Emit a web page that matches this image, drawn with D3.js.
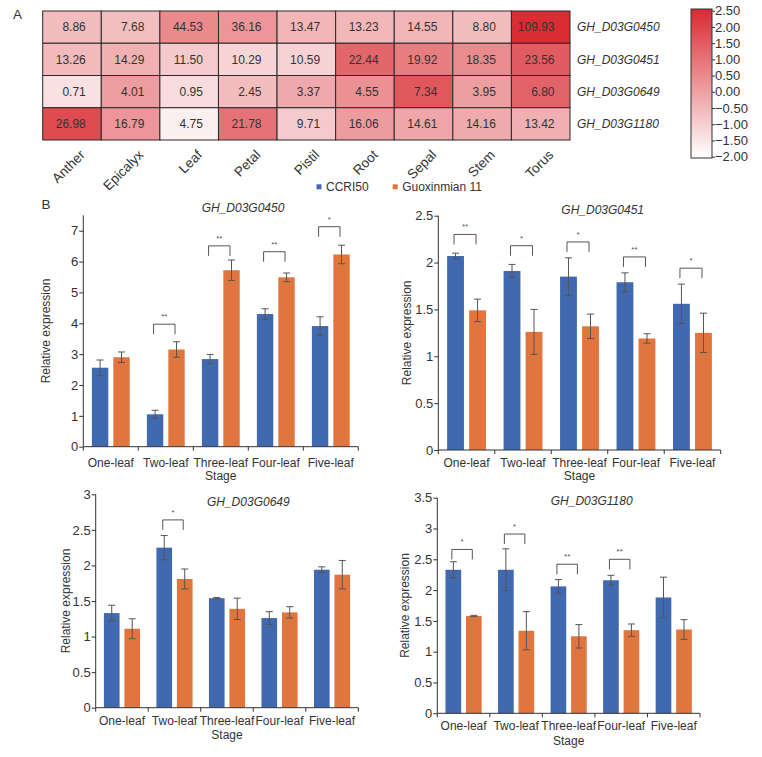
<!DOCTYPE html>
<html>
<head>
<meta charset="utf-8">
<script src="https://cdn.jsdelivr.net/npm/d3@7"></script>
<style>
  html, body { margin: 0; padding: 0; background: #fff; }
  svg { display: block; font-family: "Liberation Sans", Arial, sans-serif; }
</style>
</head>
<body>
<svg id="chart" width="762" height="757"></svg>
<script>
// ---------------- DATA ----------------
const tissues = ["Anther", "Epicalyx", "Leaf", "Petal", "Pistil", "Root", "Sepal", "Stem", "Torus"];
const genes = ["GH_D03G0450", "GH_D03G0451", "GH_D03G0649", "GH_D03G1180"];
const expr0450 = [8.86, 7.68, 44.53, 36.16, 13.47, 13.23, 14.55, 8.80, 109.93];
const expr0451 = [13.26, 14.29, 11.50, 10.29, 10.59, 22.44, 19.92, 18.35, 23.56];
const expr0649 = [0.71, 4.01, 0.95, 2.45, 3.37, 4.55, 7.34, 3.95, 6.80];
const expr1180 = [26.98, 16.79, 4.75, 21.78, 9.71, 16.06, 14.61, 14.16, 13.42];
const colorbarTicks = [2.5, 2.0, 1.5, 1.0, 0.5, 0.0, -0.5, -1.0, -1.5, -2.0];

const stages = ["One-leaf", "Two-leaf", "Three-leaf", "Four-leaf", "Five-leaf"];
const seriesNames = ["CCRI50", "Guoxinmian 11"];

const ccri_0450 = [2.56, 1.05, 2.84, 4.30, 3.91];
const ccriErr_0450 = [0.25, 0.13, 0.15, 0.17, 0.30];
const gxm_0450 = [2.90, 3.15, 5.72, 5.49, 6.23];
const gxmErr_0450 = [0.17, 0.25, 0.33, 0.14, 0.30];
const sig_0450 = ["", "**", "**", "**", "*"];
const sigLevel_0450 = [null, 3.97, 6.51, 6.32, 7.13];
const yTicks_0450 = [0, 1, 2, 3, 4, 5, 6, 7];

const ccri_0451 = [2.07, 1.91, 1.85, 1.79, 1.56];
const ccriErr_0451 = [0.03, 0.07, 0.20, 0.10, 0.21];
const gxm_0451 = [1.49, 1.26, 1.32, 1.19, 1.25];
const gxmErr_0451 = [0.12, 0.24, 0.13, 0.05, 0.21];
const sig_0451 = ["**", "*", "*", "**", "*"];
const sigLevel_0451 = [2.30, 2.18, 2.22, 2.06, 1.94];
const yTicks_0451 = [0, 0.5, 1, 1.5, 2, 2.5];

const ccri_0649 = [1.33, 2.25, 1.54, 1.26, 1.94];
const ccriErr_0649 = [0.11, 0.17, 0.01, 0.09, 0.04];
const gxm_0649 = [1.11, 1.81, 1.39, 1.34, 1.87];
const gxmErr_0649 = [0.14, 0.14, 0.15, 0.08, 0.20];
const sig_0649 = ["", "*", "", "", ""];
const sigLevel_0649 = [null, 2.64, null, null, null];
const yTicks_0649 = [0, 0.5, 1, 1.5, 2, 2.5, 3];

const ccri_1180 = [2.33, 2.33, 2.06, 2.16, 1.88];
const ccriErr_1180 = [0.13, 0.34, 0.11, 0.08, 0.33];
const gxm_1180 = [1.58, 1.34, 1.25, 1.35, 1.36];
const gxmErr_1180 = [0.01, 0.31, 0.19, 0.10, 0.16];
const sig_1180 = ["*", "*", "**", "**", ""];
const sigLevel_1180 = [2.66, 2.91, 2.42, 2.50, null];
const yTicks_1180 = [0, 0.5, 1, 1.5, 2, 2.5, 3, 3.5];

// ---------------- DRAW ----------------
const svg = d3.select("#chart");
const seriesColor = d3.scaleOrdinal().domain(seriesNames).range(["#4169b0", "#e0763d"]);
const textColor = "#333";

// ---- Panel A: heatmap ----
const exprRows = [expr0450, expr0451, expr0649, expr1180];
const hm = { left: 42.7, top: 11, right: 570, bottom: 140 };
const xHm = d3.scaleBand().domain(tissues).range([hm.left, hm.right]);
const yHm = d3.scaleBand().domain(genes).range([hm.top, hm.bottom]);
const heatColor = d3.scaleLinear().domain([-2, 2.5]).range(["#ffffff", "#d82b31"]).clamp(true);

svg.append("text").attr("x", 13).attr("y", 18.5).attr("font-size", 13.5).attr("fill", textColor).text("A");

const cells = [];
exprRows.forEach((row, ri) => {
  const m = d3.mean(row), s = d3.deviation(row);
  row.forEach((v, ci) => cells.push({ gene: genes[ri], tissue: tissues[ci], value: v, z: (v - m) / s }));
});
const hmG = svg.append("g");
hmG.selectAll("rect").data(cells).join("rect")
  .attr("x", d => xHm(d.tissue)).attr("y", d => yHm(d.gene))
  .attr("width", xHm.bandwidth()).attr("height", yHm.bandwidth())
  .attr("fill", d => heatColor(d.z)).attr("stroke", "#2a2a2a").attr("stroke-width", 1);
hmG.selectAll("text").data(cells).join("text")
  .attr("x", d => xHm(d.tissue) + xHm.bandwidth() - 15.5)
  .attr("y", d => yHm(d.gene) + yHm.bandwidth() / 2)
  .attr("dy", "0.36em").attr("text-anchor", "end")
  .attr("font-size", 12).attr("fill", "#333")
  .text(d => d3.format(".2f")(d.value));
svg.append("g").selectAll("text").data(genes).join("text")
  .attr("x", hm.right + 7).attr("y", d => yHm(d) + yHm.bandwidth() / 2).attr("dy", "0.36em")
  .attr("font-size", 12).attr("font-style", "italic").attr("fill", textColor).text(d => d);
svg.append("g").selectAll("text").data(tissues).join("text")
  .attr("transform", d => `translate(${xHm(d) + xHm.bandwidth() / 2 + 7},${hm.bottom + 9}) rotate(-45)`)
  .attr("text-anchor", "end").attr("dy", "0.7em")
  .attr("font-size", 13.5).attr("fill", textColor).text(d => d);

// colour bar
const cb = { x: 691, w: 21, top: 9, bottom: 158 };
const yCb = d3.scaleLinear().domain([-2, 2.5]).range([cb.bottom - 1.3, cb.top + 1.7]);
const defs = svg.append("defs");
const grad = defs.append("linearGradient").attr("id", "cbgrad").attr("x1", 0).attr("x2", 0).attr("y1", 1).attr("y2", 0);
d3.range(0, 1.0001, 0.1).forEach(t => {
  grad.append("stop").attr("offset", t).attr("stop-color", heatColor(-2 + 4.5 * t));
});
svg.append("rect").attr("x", cb.x).attr("y", cb.top).attr("width", cb.w).attr("height", cb.bottom - cb.top)
  .attr("fill", "url(#cbgrad)").attr("stroke", "#333").attr("stroke-width", 1);
const cbAxis = svg.append("g").attr("transform", `translate(${cb.x + cb.w},0)`)
  .call(d3.axisRight(yCb).tickValues(colorbarTicks).tickSize(3).tickFormat(d3.format(".2f")));
cbAxis.select(".domain").remove();
cbAxis.selectAll("line").attr("stroke", "#333");
cbAxis.selectAll("text").attr("font-size", 13).attr("fill", textColor).attr("x", 3)
  .attr("font-family", "Liberation Sans, Arial, sans-serif");

// legend
const lg = svg.append("g");
[{ name: seriesNames[0], x: 316.5 }, { name: seriesNames[1], x: 392.7 }].forEach(d => {
  lg.append("rect").attr("x", d.x).attr("y", 184.3).attr("width", 5).attr("height", 5).attr("fill", seriesColor(d.name));
  lg.append("text").attr("x", d.x + 9.5).attr("y", 186.8).attr("dy", "0.36em").attr("font-size", 12).attr("fill", textColor).text(d.name);
});

svg.append("text").attr("x", 41.5).attr("y", 208.5).attr("font-size", 13.5).attr("fill", textColor).text("B");

// ---- Panel B: bar charts ----
const panels = [
  { gene: genes[0], a: ccri_0450, ae: ccriErr_0450, b: gxm_0450, be: gxmErr_0450, sig: sig_0450, lvl: sigLevel_0450, ticks: yTicks_0450, ymax: 7.5,
    x0: 83.3, x1: 358.3, y0: 446.7, yTop: 215.3, titleX: 243, titleY: 212, ylabX: 50, xlabY: 466.5, stageY: 480 },
  { gene: genes[1], a: ccri_0451, ae: ccriErr_0451, b: gxm_0451, be: gxmErr_0451, sig: sig_0451, lvl: sigLevel_0451, ticks: yTicks_0451, ymax: 2.5,
    x0: 438.3, x1: 720.7, y0: 450, yTop: 215.7, titleX: 602.7, titleY: 214, ylabX: 410.5, xlabY: 467, stageY: 480 },
  { gene: genes[2], a: ccri_0649, ae: ccriErr_0649, b: gxm_0649, be: gxmErr_0649, sig: sig_0649, lvl: sigLevel_0649, ticks: yTicks_0649, ymax: 3,
    x0: 95.7, x1: 358.3, y0: 707.7, yTop: 494.3, titleX: 248.3, titleY: 505.5, ylabX: 69.5, xlabY: 724.5, stageY: 739 },
  { gene: genes[3], a: ccri_1180, ae: ccriErr_1180, b: gxm_1180, be: gxmErr_1180, sig: sig_1180, lvl: sigLevel_1180, ticks: yTicks_1180, ymax: 3.5,
    x0: 437.3, x1: 700, y0: 713.3, yTop: 497.7, titleX: 591.7, titleY: 504.5, ylabX: 409, xlabY: 730, stageY: 744.5 }
];

panels.forEach(p => {
  const g = svg.append("g");
  const x = d3.scaleBand().domain(stages).range([p.x0, p.x1]);
  const x1 = d3.scaleBand().domain(seriesNames).range([0, x.bandwidth()]).paddingInner(0.235).paddingOuter(0.4);
  const y = d3.scaleLinear().domain([0, p.ymax]).range([p.y0, p.yTop]);
  const rows = stages.map((s, i) => ({ stage: s, vals: [
    { series: seriesNames[0], v: p.a[i], e: p.ae[i] },
    { series: seriesNames[1], v: p.b[i], e: p.be[i] }] }));

  // bars
  const grp = g.selectAll("g.grp").data(rows).join("g").attr("class", "grp")
    .attr("transform", d => `translate(${x(d.stage)},0)`);
  grp.selectAll("rect").data(d => d.vals).join("rect")
    .attr("x", d => x1(d.series)).attr("width", x1.bandwidth())
    .attr("y", d => y(d.v)).attr("height", d => y(0) - y(d.v))
    .attr("fill", d => seriesColor(d.series));
  // error bars
  const eb = grp.selectAll("g.eb").data(d => d.vals).join("g").attr("class", "eb")
    .attr("stroke", "#555").attr("stroke-width", 1);
  eb.append("line").attr("x1", d => x1(d.series) + x1.bandwidth() / 2).attr("x2", d => x1(d.series) + x1.bandwidth() / 2)
    .attr("y1", d => y(d.v - d.e)).attr("y2", d => y(d.v + d.e));
  eb.append("line").attr("x1", d => x1(d.series) + x1.bandwidth() / 2 - 3.5).attr("x2", d => x1(d.series) + x1.bandwidth() / 2 + 3.5)
    .attr("y1", d => y(d.v + d.e)).attr("y2", d => y(d.v + d.e));
  eb.append("line").attr("x1", d => x1(d.series) + x1.bandwidth() / 2 - 3.5).attr("x2", d => x1(d.series) + x1.bandwidth() / 2 + 3.5)
    .attr("y1", d => y(d.v - d.e)).attr("y2", d => y(d.v - d.e));

  // significance brackets
  const sigData = stages.map((s, i) => ({ stage: s, sig: p.sig[i], lvl: p.lvl[i] })).filter(d => d.sig);
  const sg = g.selectAll("g.sig").data(sigData).join("g").attr("class", "sig")
    .attr("transform", d => `translate(${x(d.stage)},0)`);
  const xa = x1(seriesNames[0]) + x1.bandwidth() / 2 - 1.5;
  const xb = x1(seriesNames[1]) + x1.bandwidth() / 2 - 1.5;
  sg.append("path")
    .attr("d", d => `M${xa},${y(d.lvl) + 10}V${y(d.lvl)}H${xb}V${y(d.lvl) + 10}`)
    .attr("fill", "none").attr("stroke", "#555").attr("stroke-width", 1);
  sg.append("text").attr("x", (xa + xb) / 2).attr("y", d => y(d.lvl) - 5)
    .attr("text-anchor", "middle").attr("font-size", 8).attr("fill", "#555").text(d => d.sig);

  // y axis
  const ya = g.append("g").attr("transform", `translate(${p.x0},0)`)
    .call(d3.axisLeft(y).tickValues(p.ticks).tickSize(4).tickSizeOuter(0).tickFormat(d3.format("~g")));
  ya.select(".domain").attr("stroke", "#333").attr("d", `M0,${p.y0}V${p.yTop}`);
  ya.selectAll("line").attr("stroke", "#333");
  ya.selectAll("text").attr("font-size", 13).attr("fill", textColor).attr("x", -5)
    .attr("font-family", "Liberation Sans, Arial, sans-serif");

  // x axis
  const xa2 = g.append("g").attr("transform", `translate(0,${p.y0})`);
  xa2.append("line").attr("x1", p.x0).attr("x2", p.x1).attr("stroke", "#333");
  xa2.selectAll("line.tk").data(d3.range(stages.length + 1)).join("line").attr("class", "tk")
    .attr("x1", i => p.x0 + i * x.step()).attr("x2", i => p.x0 + i * x.step())
    .attr("y1", 0).attr("y2", 4).attr("stroke", "#333");
  g.selectAll("text.xl").data(stages).join("text").attr("class", "xl")
    .attr("x", d => x(d) + x.bandwidth() / 2).attr("y", p.xlabY)
    .attr("text-anchor", "middle").attr("font-size", 12).attr("fill", textColor).text(d => d);
  g.append("text").attr("x", (p.x0 + p.x1) / 2).attr("y", p.stageY)
    .attr("text-anchor", "middle").attr("font-size", 12).attr("fill", textColor).text("Stage");

  // y label
  g.append("text").attr("transform", `translate(${p.ylabX},${(p.y0 + p.yTop) / 2}) rotate(-90)`)
    .attr("text-anchor", "middle").attr("font-size", 12).attr("fill", textColor).text("Relative expression");
  // title
  g.append("text").attr("x", p.titleX).attr("y", p.titleY).attr("text-anchor", "middle")
    .attr("font-size", 12).attr("font-style", "italic").attr("fill", textColor).text(p.gene);
});
</script>
</body>
</html>
